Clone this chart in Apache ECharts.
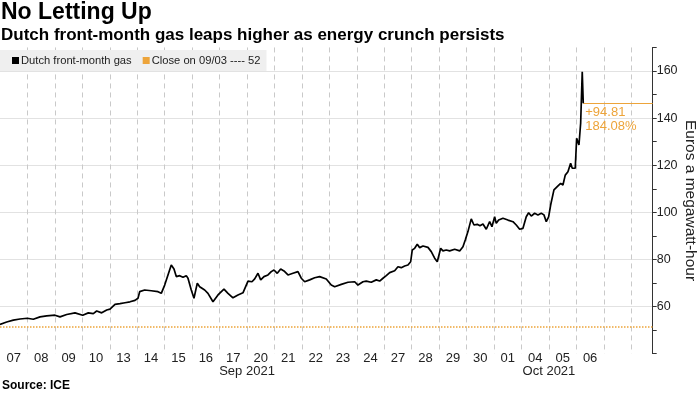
<!DOCTYPE html>
<html><head><meta charset="utf-8">
<script src="https://cdn.jsdelivr.net/npm/echarts@6/dist/echarts.min.js"></script>
<style>html,body{margin:0;padding:0;background:#fff}#c{width:700px;height:394px}</style>
</head><body><div id="c"></div>
<script>
// ---- data ----
const dayLabels = ['07','08','09','10','13','14','15','16','17','20','21','22','23','24','27','28','29','30','01','04','05','06'];
const monthNames = ['Sep 2021', 'Oct 2021'];
const monthStartIdx = [0, 18];
// time of each observation, in trading days since the 07 Sep open
const times = [0,0.244,0.485,0.729,0.995,1.213,1.457,1.701,2.004,2.186,2.430,2.732,3.013,3.217,3.399,3.523,3.705,3.887,4.007,4.189,4.372,4.554,4.736,4.918,5.027,5.089,5.271,5.512,5.756,5.876,6.000,6.120,6.240,6.339,6.423,6.546,6.667,6.787,6.849,6.969,7.067,7.188,7.275,7.457,7.577,7.760,7.942,8.160,8.306,8.488,8.670,8.852,9.035,9.180,9.279,9.399,9.497,9.617,9.763,9.883,9.982,10.029,10.102,10.226,10.346,10.492,10.674,10.856,10.976,11.100,11.282,11.464,11.646,11.887,12.069,12.193,12.434,12.678,12.922,13.042,13.224,13.344,13.526,13.709,13.832,13.953,14.073,14.197,14.379,14.499,14.619,14.743,14.863,14.962,15.020,15.107,15.202,15.290,15.410,15.592,15.712,15.836,15.931,15.982,16.055,16.138,16.259,16.383,16.565,16.747,16.867,16.951,17.049,17.169,17.268,17.388,17.486,17.596,17.716,17.840,17.923,18.022,18.080,18.168,18.324,18.506,18.689,18.809,18.933,19.053,19.173,19.260,19.355,19.479,19.599,19.720,19.818,19.902,19.989,20.062,20.182,20.302,20.426,20.510,20.594,20.692,20.790,20.849,20.958,21.009,21.093,21.155,21.213,21.250];
const prices = [52.4,53.4,54.2,54.7,55.0,54.6,55.6,56.0,56.3,55.6,56.6,57.3,56.3,57.3,57.0,58.1,57.3,58.5,58.9,60.9,61.2,61.6,62.0,62.6,63.5,66.3,67.0,66.7,66.3,65.6,69.1,73.4,77.6,75.9,72.7,73.1,72.4,73.1,72.0,67.0,63.5,69.9,68.4,67.0,65.6,62.0,64.9,67.4,65.6,63.7,64.9,65.8,70.8,70.5,71.7,74.1,71.3,72.7,73.4,74.8,75.5,76.2,74.1,75.9,75.1,73.4,74.1,74.8,72.0,70.5,71.3,72.2,72.7,71.7,69.1,68.4,69.4,70.3,70.5,69.1,70.5,70.8,70.3,71.3,70.8,72.0,73.1,74.4,75.2,76.9,76.5,77.2,77.6,79.0,84.0,84.7,86.4,85.0,85.7,85.1,83.3,80.5,79.0,78.8,84.7,83.6,84.0,83.6,84.3,83.6,85.4,88.2,91.8,97.2,94.6,94.9,94.3,95.0,92.8,96.0,93.9,98.1,95.3,96.7,97.5,96.7,96.0,94.6,92.8,93.2,98.1,99.8,98.4,99.6,98.9,99.6,98.9,96.0,98.1,103.1,109.5,110.9,112.3,111.6,115.8,117.2,120.8,118.7,118.7,131.4,128.6,137.8,159.7,146.315];
const priorClose = 51.505;
const priorCloseDate = '09/03';
const seriesName = 'Dutch front-month gas';
const yLabelValues = [60, 80, 100, 120, 140, 160];

// ---- layout / style ----
const X_MAX = 23.78, Y_MIN = 40, Y_MAX = 170;
const GRID = {left: 0, right: 47.3, top: 47.45, bottom: 40.4};
const dayPx = (700 - GRID.left - GRID.right) / X_MAX;
const ORANGE = '#eda43a';
const FONT = 'Liberation Sans';

const lastT = times[times.length - 1];
const lastV = prices[prices.length - 1];
const diff = lastV - priorClose;
const pct = diff / priorClose * 100;
const closeName = 'Close on ' + priorCloseDate + ' ---- ' + Math.round(priorClose);

const monthMid = monthNames.map((m, i) => {
  const s = monthStartIdx[i];
  const e = i + 1 < monthStartIdx.length ? monthStartIdx[i + 1] : dayLabels.length;
  return (s + e) / 2;
});

const chart = echarts.init(document.getElementById('c'), null, {renderer: 'canvas'});
chart.setOption({
  animation: false,
  backgroundColor: '#fff',
  textStyle: {fontFamily: FONT},
  title: [
    {text: 'No Letting Up', left: 1, top: 1, padding: 0,
     textStyle: {fontFamily: FONT, fontWeight: 'bold', fontSize: 23, color: '#000'}},
    {text: 'Dutch front-month gas leaps higher as energy crunch persists', left: 1, top: 27, padding: 0,
     textStyle: {fontFamily: FONT, fontWeight: 'bold', fontSize: 17, color: '#000'}},
    {text: 'Source: ICE', left: 2, top: 380, padding: 0,
     textStyle: {fontFamily: FONT, fontWeight: 'bold', fontSize: 12, color: '#000'}}
  ],
  legend: {
    left: 0, top: 50, padding: [5, 6, 5, 12], itemGap: 11,
    icon: 'rect', itemWidth: 7, itemHeight: 7,
    backgroundColor: '#efefef',
    textStyle: {fontFamily: FONT, fontSize: 11.2, color: '#222', padding: [0, 0, 0, -3]},
    data: [seriesName, closeName]
  },
  grid: Object.assign({outerBoundsMode: 'none', containLabel: false}, GRID),
  xAxis: [
    {type: 'value', min: 0, max: X_MAX, interval: 1, position: 'bottom',
     axisLine: {show: false, onZero: false}, axisTick: {show: false},
     splitLine: {show: true, showMinLine: false, showMaxLine: false,
                 lineStyle: {color: '#c9c9c9', width: 1, type: [5, 4]}},
     axisLabel: {show: true, margin: -2, fontSize: 13, color: '#222', fontFamily: FONT,
                 padding: [0, 0, 0, dayPx],
                 formatter: v => (Number.isInteger(v) && v >= 0 && v < dayLabels.length) ? dayLabels[v] : ''}},
    {type: 'value', min: 0, max: X_MAX, interval: 1, position: 'bottom',
     axisLine: {show: false, onZero: false}, axisTick: {show: false}, splitLine: {show: false},
     axisLabel: {show: true, margin: 11, fontSize: 13, color: '#222', fontFamily: FONT,
                 formatter: v => { const k = monthMid.indexOf(v); return k >= 0 ? monthNames[k] : ''; }}}
  ],
  yAxis: [
    {type: 'value', position: 'right', min: Y_MIN, max: Y_MAX, interval: 10,
     axisLine: {show: true, onZero: false, lineStyle: {color: '#333', width: 1}},
     axisTick: {show: true, length: 4, lineStyle: {color: '#333'}},
     splitLine: {show: true, showMinLine: false, showMaxLine: false,
                 lineStyle: {color: ['rgba(0,0,0,0)', '#e2e2e2'], width: 1}},
     axisLabel: {margin: 4, fontSize: 12.5, color: '#222', fontFamily: FONT,
                 formatter: v => yLabelValues.indexOf(v) >= 0 ? String(v) : ''},
     name: 'Euros a megawatt-hour', nameLocation: 'middle', nameRotate: -90, nameGap: 30,
     nameMoveOverlap: false,
     nameTextStyle: {fontSize: 15.5, color: '#222', fontFamily: FONT}}
  ],
  series: [
    {name: seriesName, type: 'line', xAxisIndex: 0, yAxisIndex: 0,
     data: times.map((t, i) => [t, prices[i]]),
     showSymbol: false, symbol: 'none', color: '#000',
     lineStyle: {color: '#000', width: 1.7}, z: 5,
     markLine: {silent: true, symbol: ['none', 'none'],
       lineStyle: {color: ORANGE, type: 'solid', width: 1},
       label: {show: true, position: 'insideStartBottom', distance: 2,
               color: ORANGE, fontSize: 13, lineHeight: 14, fontFamily: FONT,
               formatter: '+' + diff.toFixed(2) + '\n' + pct.toFixed(2) + '%'},
       data: [[{coord: [lastT, lastV]}, {coord: [X_MAX, lastV]}]]}},
    {name: closeName, type: 'line', xAxisIndex: 0, yAxisIndex: 0, data: [],
     color: ORANGE, showSymbol: false,
     markLine: {silent: true, symbol: ['none', 'none'],
       lineStyle: {color: ORANGE, type: 'dotted', width: 1.5},
       label: {show: false},
       data: [{yAxis: priorClose}]}}
  ]
});
</script></body></html>
